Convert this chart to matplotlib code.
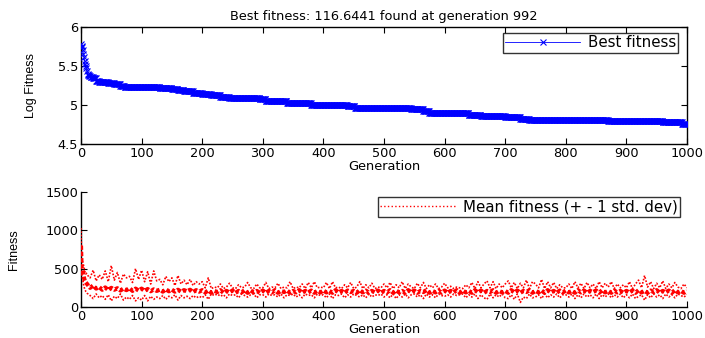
import numpy as np
import matplotlib
matplotlib.use("Agg")
import matplotlib.pyplot as plt

plt.rcParams['font.family'] = ['DejaVu Sans']

# ---------------- data ----------------
# Best fitness (log) : generation where a new value starts, and that value
best_start_gen = [0, 1, 2, 3, 4, 5, 6, 7, 8, 9, 10, 11, 12, 14, 16, 20, 25, 30, 45, 55,
                  65, 72, 100, 130, 150, 160, 170, 185, 200, 215, 230, 245, 295, 305,
                  333, 340, 380, 440, 452, 545, 565, 575, 640, 660, 700, 725, 740, 870,
                  920, 960, 992]
best_log_fit = [5.78, 5.76, 5.74, 5.70, 5.66, 5.62, 5.57, 5.52, 5.50, 5.47, 5.43, 5.40,
                5.38, 5.37, 5.36, 5.34, 5.31, 5.29, 5.285, 5.275, 5.25, 5.23, 5.225,
                5.215, 5.205, 5.195, 5.18, 5.16, 5.145, 5.125, 5.105, 5.085, 5.075,
                5.055, 5.045, 5.02, 5.005, 4.99, 4.965, 4.945, 4.92, 4.895, 4.875,
                4.86, 4.845, 4.825, 4.81, 4.80, 4.79, 4.78, 4.759]
last_gen = 1000

# Mean fitness and +/- 1 std: generations 0..9, then every 5 generations 10..1000
early_gen = [0, 1, 2, 3, 4, 5, 6, 7, 8, 9]
early_mean = [800, 520, 500, 470, 420, 380, 350, 330, 320, 310]
early_upper = [1030, 620, 600, 580, 550, 520, 470, 450, 430, 440]
early_lower = [560, 430, 400, 360, 300, 260, 240, 220, 200, 190]

mean_fit = [
    300, 250, 280, 240, 260, 225, 255, 220, 250, 225, 245, 215, 240, 220, 245, 210, 240, 215,
    240, 210, 235, 205, 230, 210, 225, 200, 230, 205, 225, 200, 225, 200, 220, 205, 225, 195, 220, 200,
    220, 190, 215, 185, 210, 195, 220, 185, 210, 190, 215, 185, 210, 190, 220, 185, 215, 190, 210, 185,
    215, 185, 210, 190, 220, 185, 210, 195, 215, 185, 210, 190, 220, 185, 210, 190, 215, 185, 210, 190,
    215, 190, 210, 185, 220, 190, 210, 185, 215, 195, 210, 185, 220, 190, 215, 185, 210, 190, 215, 185,
    210, 190, 220, 185, 215, 190, 210, 185, 220, 190, 215, 185, 210, 195, 220, 185, 210, 190, 215, 185,
    215, 185, 210, 190, 220, 185, 215, 190, 210, 185, 220, 190, 215, 185, 210, 195, 220, 185, 210, 190,
    210, 185, 220, 190, 215, 185, 210, 195, 220, 185, 210, 190, 215, 185, 220, 190, 210, 185, 215, 190,
    215, 190, 210, 185, 220, 190, 215, 185, 210, 195, 215, 185, 220, 190, 210, 185, 215, 190, 210, 185,
    210, 190, 215, 185, 220, 190, 210, 185, 215, 195, 220, 185, 210, 190, 215, 185, 220, 190, 210, 185, 210]
upper_fit = [
    420, 380, 480, 340, 420, 360, 470, 330, 540, 350, 450, 310, 430, 380, 400, 320, 500, 360,
    480, 330, 460, 300, 470, 340, 360, 290, 400, 330, 380, 280, 410, 300, 350, 290, 360, 280, 330, 300,
    330, 250, 380, 240, 260, 250, 300, 240, 260, 310, 250, 240, 290, 250, 260, 320, 250, 240, 300, 250,
    250, 320, 240, 260, 250, 310, 240, 260, 250, 330, 240, 260, 250, 300, 240, 320, 250, 330, 250, 260,
    250, 320, 240, 330, 250, 260, 240, 290, 250, 320, 240, 260, 330, 240, 290, 250, 310, 240, 260, 250,
    300, 250, 320, 240, 290, 250, 330, 240, 300, 260, 240, 310, 250, 320, 240, 290, 250, 300, 240, 260,
    310, 250, 270, 240, 260, 250, 240, 290, 250, 320, 240, 330, 250, 300, 340, 250, 330, 240, 300, 250,
    300, 340, 250, 320, 240, 310, 250, 350, 240, 330, 300, 250, 360, 240, 330, 250, 320, 240, 290, 250,
    250, 300, 240, 330, 250, 310, 240, 320, 250, 300, 240, 330, 250, 310, 260, 330, 240, 300, 250, 290,
    250, 330, 240, 300, 350, 250, 410, 260, 330, 240, 310, 250, 340, 240, 300, 250, 320, 260, 240, 300, 250]
lower_fit = [
    180, 150, 110, 170, 120, 150, 100, 160, 80, 140, 110, 170, 90, 130, 100, 150, 80, 120,
    90, 150, 80, 140, 100, 130, 110, 150, 100, 140, 120, 160, 90, 150, 120, 140, 110, 150, 120, 140,
    120, 160, 100, 170, 150, 170, 140, 160, 120, 170, 150, 160, 120, 170, 150, 130, 160, 170, 120, 160,
    160, 130, 170, 150, 160, 130, 170, 120, 160, 150, 170, 130, 160, 120, 170, 150, 160, 120, 170, 150,
    160, 120, 170, 110, 160, 150, 170, 120, 160, 130, 170, 150, 130, 160, 120, 170, 130, 160, 150, 170,
    130, 160, 120, 170, 110, 160, 130, 170, 120, 160, 170, 130, 160, 110, 170, 130, 160, 120, 170, 150,
    140, 160, 130, 170, 150, 160, 170, 120, 160, 130, 170, 110, 160, 120, 100, 170, 120, 160, 130, 170,
    120, 110, 160, 100, 170, 60, 130, 110, 170, 120, 130, 160, 110, 170, 120, 160, 130, 170, 120, 160,
    160, 130, 170, 110, 160, 120, 170, 130, 160, 120, 170, 110, 160, 130, 170, 120, 160, 130, 170, 120,
    160, 120, 170, 110, 140, 160, 90, 160, 120, 170, 130, 160, 110, 170, 130, 160, 120, 170, 150, 130, 160]

title_text = "Best fitness: 116.6441 found at generation 992"

# ---------------- build series ----------------
seg_len = np.diff(best_start_gen + [last_gen + 1])
best_gen = np.arange(last_gen + 1)
best_val = np.repeat(best_log_fit, seg_len)

gen2 = np.concatenate([early_gen, np.arange(10, 1001, 5)])
mean_all = np.concatenate([early_mean, mean_fit])
upper_all = np.concatenate([early_upper, upper_fit])
lower_all = np.concatenate([early_lower, lower_fit])

# ---------------- figure ----------------
W, H = 705, 338
fig = plt.figure(figsize=(W / 100, H / 100), dpi=100)
fs = 9.3          # horizontal text
fs_leg = 10.8     # legend text
fs_y = 9.0        # rotated y labels
ylab_font = ['Liberation Sans', 'DejaVu Sans']

def fx(px):
    return px / W

def fy(py):
    return 1 - py / H

ax1 = fig.add_axes([fx(81), fy(144), fx(687) - fx(81), fy(27) - fy(144)])
ax2 = fig.add_axes([fx(81), fy(307), fx(687) - fx(81), fy(192) - fy(307)])

blue = (0, 0, 1)
red = (1, 0, 0)

ax1.plot(best_gen, best_val, color=blue, lw=0.6, marker='x', ms=5, mew=0.8,
         label='Best fitness', zorder=3)
ax1.set_xlim(0, 1000)
ax1.set_ylim(4.5, 6)
ax1.set_xticks(np.arange(0, 1001, 100))
ax1.set_yticks([4.5, 5, 5.5, 6])
ax1.set_yticklabels(['4.5', '5', '5.5', '6'])
ax1.tick_params(direction='in', length=4, width=0.8, labelsize=fs, top=True, right=True,
                pad=2)
for s in ax1.spines.values():
    s.set_linewidth(1.0)
ax1.set_xlabel('Generation', fontsize=fs, labelpad=0)
ax1.set_ylabel('Log Fitness', fontsize=fs_y, labelpad=15, family=ylab_font)
ax1.set_title(title_text, fontsize=fs, pad=5)
leg1 = ax1.legend(loc='upper right', bbox_to_anchor=(fx(678), fy(33)),
                  bbox_transform=fig.transFigure, fontsize=fs_leg, handlelength=5.0,
                  borderpad=0.15, handletextpad=0.5, borderaxespad=0, fancybox=False,
                  frameon=True)
leg1.get_frame().set_edgecolor('black')
leg1.get_frame().set_linewidth(1.0)

ax2.plot(gen2, upper_all, color=red, lw=1.2, ls=(0, (1, 1)), zorder=3)
ax2.plot(gen2, lower_all, color=red, lw=1.2, ls=(0, (1, 1)), zorder=3)
ax2.plot(gen2, mean_all, color=red, lw=3.0, ls=(0, (1, 0.5)), zorder=3)
ax2.plot([], [], color=red, lw=1.0, ls=':', label='Mean fitness (+ - 1 std. dev)')
ax2.set_xlim(0, 1000)
ax2.set_ylim(0, 1500)
ax2.set_xticks(np.arange(0, 1001, 100))
ax2.set_yticks([0, 500, 1000, 1500])
ax2.tick_params(direction='in', length=4, width=0.8, labelsize=fs, pad=2)
ax2.spines['top'].set_visible(False)
ax2.spines['right'].set_visible(False)
for s in ['left', 'bottom']:
    ax2.spines[s].set_linewidth(1.0)
ax2.set_xlabel('Generation', fontsize=fs, labelpad=0)
ax2.set_ylabel('Fitness', fontsize=fs_y, labelpad=18, family=ylab_font)
leg2 = ax2.legend(loc='upper right', bbox_to_anchor=(fx(680), fy(197)),
                  bbox_transform=fig.transFigure, fontsize=fs_leg, handlelength=5.0,
                  borderpad=0.15, handletextpad=0.5, borderaxespad=0, fancybox=False,
                  frameon=True)
leg2.get_frame().set_edgecolor('black')
leg2.get_frame().set_linewidth(1.0)

fig.savefig('out.png', dpi=100)
